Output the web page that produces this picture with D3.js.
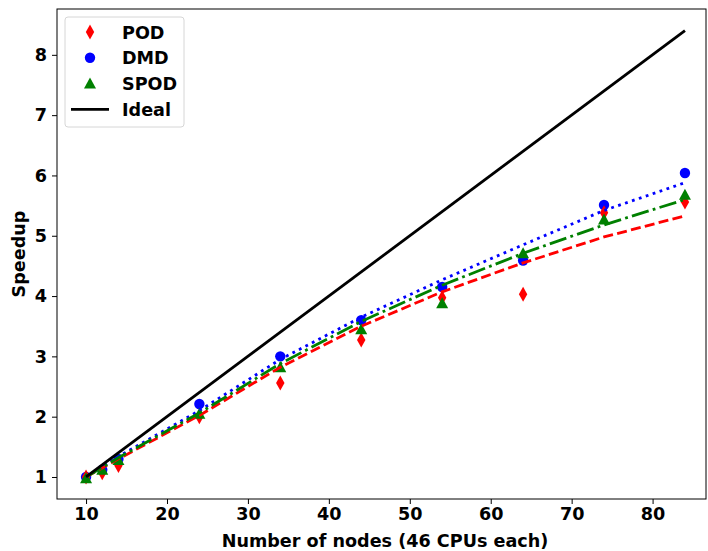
<!DOCTYPE html>
<html lang="en">
  <head>
    <meta charset="utf-8">
    <title>Speedup</title>
    <script type="text/javascript" src="https://d3js.org/d3.v7.min.js"></script>
  </head>
  <style>
    body { margin: 0; background: white; }
    text { font-family: "DejaVu Sans", sans-serif; font-weight: bold; }
  </style>
  <body>
    <svg class="chart"></svg>
  </body>
  <script>
    // data
    const nodes = [10, 12, 14, 24, 34, 44, 54, 64, 74, 84];
    const pod  = [1.0, 1.07, 1.19, 2.0, 2.56, 3.27, 3.97, 4.03, 5.38, 5.56];
    const dmd  = [1.0, 1.12, 1.3, 2.21, 3.0, 3.6, 4.15, 4.59, 5.51, 6.04];
    const spod = [0.98, 1.12, 1.28, 2.05, 2.82, 3.45, 3.88, 4.71, 5.27, 5.68];
    // fitted curves, read at the same node counts
    const podFit  = [1.0, 1.15, 1.3, 2.02, 2.82, 3.5, 4.07, 4.55, 4.98, 5.33];
    const dmdFit  = [1.0, 1.17, 1.34, 2.1, 2.95, 3.65, 4.27, 4.85, 5.42, 5.88];
    const spodFit = [1.0, 1.16, 1.32, 2.06, 2.88, 3.58, 4.18, 4.71, 5.18, 5.6];
    const ideal = [1.0, 8.4];
    const idealNodes = [10, 84];
    const xTicks = [10, 20, 30, 40, 50, 60, 70, 80];
    const yTicks = [1, 2, 3, 4, 5, 6, 7, 8];

    const width = 708, height = 551;
    const padL = 57, padR = 706, padT = 9, padB = 499;
    const fs = 17.6;

    var svg = d3.select(".chart").attr("width", width).attr("height", height);

    var x = d3.scaleLinear().domain([6.41, 86.6]).range([padL, padR]);
    var y = d3.scaleLinear().domain([0.635, 8.76]).range([padB, padT]);

    //axes
    var xAxis = d3.axisBottom(x).tickValues(xTicks).tickSize(5).tickPadding(4);
    var yAxis = d3.axisLeft(y).tickValues(yTicks).tickSize(5).tickPadding(5);

    svg.append("g").attr("transform", "translate(0," + padB + ")").call(xAxis)
      .call(g => g.select(".domain").remove())
      .selectAll("text").attr("font-size", fs).attr("fill", "black")
      .attr("font-family", "DejaVu Sans").attr("font-weight", "bold");
    svg.append("g").attr("transform", "translate(" + padL + ",0)").call(yAxis)
      .call(g => g.select(".domain").remove())
      .selectAll("text").attr("font-size", fs).attr("fill", "black")
      .attr("font-family", "DejaVu Sans").attr("font-weight", "bold");
    svg.selectAll(".tick line").attr("stroke", "black").attr("stroke-width", 1);

    svg.append("defs").append("clipPath").attr("id", "clip")
      .append("rect").attr("x", padL).attr("y", padT).attr("width", padR - padL).attr("height", padB - padT);
    var plot = svg.append("g").attr("clip-path", "url(#clip)");

    var line = d3.line().x(d => x(d[0])).y(d => y(d[1]));

    //markers
    var diamond = "M0,-7.5L4.2,0L0,7.5L-4.2,0Z";
    var triangle = "M0,-6L6,5L-6,5Z";

    function drawMarkers(vals, color, kind) {
      vals.forEach(function(v, i) {
        if (kind == "circle") {
          plot.append("circle").attr("cx", x(nodes[i])).attr("cy", y(v)).attr("r", 5.2).attr("fill", color);
        } else {
          plot.append("path").attr("transform", "translate(" + x(nodes[i]) + "," + y(v) + ")")
            .attr("d", kind == "diamond" ? diamond : triangle).attr("fill", color);
        }
      });
    }
    drawMarkers(dmd, "blue", "circle");
    drawMarkers(pod, "red", "diamond");
    drawMarkers(spod, "green", "triangle");

    function drawFit(vals, color, dash) {
      plot.append("path")
        .datum(nodes.map((n, i) => [n, vals[i]]))
        .attr("d", line)
        .attr("fill", "none")
        .attr("stroke", color)
        .attr("stroke-width", 2.8)
        .attr("stroke-dasharray", dash);
    }
    drawFit(podFit, "red", "10,4.3");
    drawFit(dmdFit, "blue", "2.8,4.5");
    drawFit(spodFit, "green", "17.5,4.3,2.8,4.3");

    plot.append("path")
      .datum(idealNodes.map((n, i) => [n, ideal[i]]))
      .attr("d", line)
      .attr("fill", "none")
      .attr("stroke", "black")
      .attr("stroke-width", 2.8);

    //frame
    svg.append("rect").attr("x", padL).attr("y", padT).attr("width", padR - padL).attr("height", padB - padT)
      .attr("fill", "none").attr("stroke", "black").attr("stroke-width", 1);

    //legend
    var legend = svg.append("g");
    legend.append("rect").attr("x", 65).attr("y", 17).attr("width", 119).attr("height", 110).attr("rx", 3)
      .attr("fill", "white").attr("fill-opacity", 0.8).attr("stroke", "#d6d6d6").attr("stroke-width", 1);
    var entries = [
      {name: "POD", color: "red", kind: "diamond"},
      {name: "DMD", color: "blue", kind: "circle"},
      {name: "SPOD", color: "green", kind: "triangle"},
      {name: "Ideal", color: "black", kind: "line"}
    ];
    entries.forEach(function(e, i) {
      var cy = 32 + i * 25.8;
      if (e.kind == "circle") {
        legend.append("circle").attr("cx", 90).attr("cy", cy).attr("r", 5.2).attr("fill", e.color);
      } else if (e.kind == "line") {
        legend.append("line").attr("x1", 71).attr("x2", 109).attr("y1", cy).attr("y2", cy)
          .attr("stroke", e.color).attr("stroke-width", 2.8);
      } else {
        legend.append("path").attr("transform", "translate(90," + cy + ")")
          .attr("d", e.kind == "diamond" ? diamond : triangle).attr("fill", e.color);
      }
      legend.append("text").attr("x", 122).attr("y", cy + 6.5).attr("font-size", fs).text(e.name);
    });

    //axis labels
    svg.append("text").attr("x", 385).attr("y", 547).attr("text-anchor", "middle")
      .attr("font-size", fs).text("Number of nodes (46 CPUs each)");
    svg.append("text").attr("transform", "translate(25," + ((padT + padB) / 2) + ") rotate(-90)")
      .attr("text-anchor", "middle").attr("font-size", fs).text("Speedup");
  </script>
</html>
